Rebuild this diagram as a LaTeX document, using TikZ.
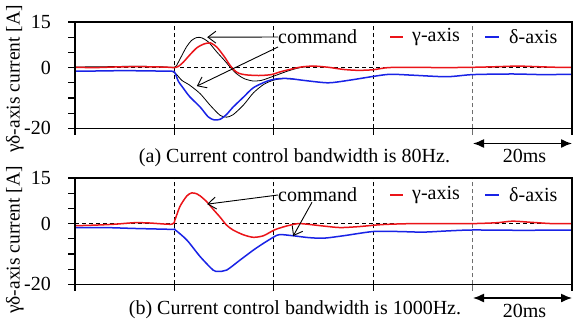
\documentclass[tikz,border=0pt]{standalone}
\usepackage{fontspec}
\setmainfont{Liberation Serif}
\usetikzlibrary{arrows.meta}
\definecolor{gcol}{RGB}{235,20,25}
\definecolor{dcol}{RGB}{25,35,230}
\definecolor{gridgray}{RGB}{110,110,110}
\begin{document}
\begin{tikzpicture}[x=1bp,y=-1bp,
  frame/.style={line width=1.1bp},
  gridline/.style={dash pattern=on 4bp off 3bp, line width=0.8bp},
  gam/.style={gcol, line width=1.5bp},
  del/.style={dcol, line width=1.5bp},
  cmd/.style={black, line width=0.8bp},
  lbl/.style={font=\fontsize{20bp}{24bp}\selectfont, inner sep=0pt},
  ylbl/.style={font=\fontsize{19.5bp}{24bp}\selectfont, inner sep=0pt, rotate=90},
  pointer/.style={-{Straight Barb[length=8bp,width=12bp]}, line width=0.9bp},
  spanarrow/.style={{Latex[length=11bp,width=9bp]}-{Latex[length=11bp,width=9bp]}, line width=1.4bp},
  smoothplot/.style={smooth, tension=0.45}]
\fill[white] (0,0) rectangle (577,323);
\useasboundingbox (0,0) rectangle (577,323);

% ---------------- panel (a) ----------------
\begin{scope}[shift={(75,67.6)}, x=4.97bp, y=3.04bp]
  \draw[gridline] (0,0) -- (100,0);
  \foreach \t in {20,40,60} \draw[gridline] (\t,-20) -- (\t,15);
  \draw[gridline, gridgray] (80,-20) -- (80,15);
  \foreach \v in {-20,-15,...,15} \draw[frame] (0,\v) -- ++(-7bp,0pt);
  \foreach \t in {0,20,40,60,100} \draw[frame] (\t,-20) -- ++(0pt,-7bp);
  \draw[frame, gridgray] (80,-20) -- ++(0pt,-7bp);
  \node[lbl, anchor=east] (a15) at ([xshift=-24bp]0,15) {15};
  \node[lbl, anchor=east] (a0) at ([xshift=-24bp]0,0) {0};
  \node[lbl, anchor=east] (am20) at ([xshift=-24bp]0,-20) {-20};
  % command
  \draw[cmd] plot[smoothplot] coordinates {(0,0.2) (6,0.3) (12,0.45) (17,0.3) (20,0.1) (20.7,1.5) (21.5,4) (22.5,7) (23.5,9) (24.5,9.9) (25.5,9.8) (26.8,8.5) (28.5,5.2) (30,2.5) (31.2,0.2) (32.5,-2) (34,-3.6) (35.8,-4.4) (37.5,-4.2) (38.8,-3.5) (40.5,-2.5) (42.5,-1.3) (44.5,-0.3) (46,0.2) (48,0.45)};
  \draw[cmd] plot[smoothplot] coordinates {(19.5,-1.2) (20.3,-2) (21.5,-4.2) (23.1,-5.8) (25.2,-8.6) (27.2,-12.4) (29.2,-15.7) (30.5,-16.3) (31.8,-15.5) (33.9,-12.3) (35.9,-8.3) (38,-5.5) (40,-4.1) (42,-3.6) (44,-3.8)};
  % gamma
  \draw[gam] plot[smoothplot] coordinates {(0,0.1) (4,0) (8,0.2) (12,0.3) (16,0.25) (19,0.1) (20,0) (20.8,0.4) (21.8,1.8) (23,4) (24.5,6.5) (26,7.8) (27.3,8.1) (28.5,6.8) (29.5,4.8) (30.3,3.0) (31,1.2) (32,-0.8) (33,-1.9) (34.5,-2.4) (37,-2.6) (39.5,-2.3) (41.5,-1.3) (43.5,-0.5) (45.5,0.2) (48,0.5) (51,0.1) (54,-0.6) (57,-0.9) (60,-0.7) (63,0) (68,0.1) (74,0) (80,0.1) (85,0.3) (89,0.5) (93,0.3) (97,0.1) (100,0.1)};
  % delta
  \draw[del] plot[smoothplot] coordinates {(0,-1.2) (5,-1.1) (10,-1.0) (15,-1.1) (19.5,-1.2) (20.1,-1.7) (20.8,-4.5) (21.8,-6.8) (23.1,-9.6) (25.2,-13) (26.8,-16.2) (28,-17.2) (29.2,-17) (30.5,-15.4) (31.8,-13) (33.9,-9.7) (35.9,-6.6) (38.6,-4.5) (40.6,-3.7) (43,-3.6) (46.5,-4.3) (51,-5) (55,-4.2) (60,-2.9) (63.4,-2.2) (68,-2.5) (74.8,-3.0) (80,-2.3) (88,-2.1) (94,-2.3) (100,-2.2)};
  \draw[frame] (0,-20) rectangle (100,15);
  \coordinate (tA1) at (26.6,10);
  \coordinate (tA2) at (24.5,-6.1);
\end{scope}
\node[lbl, anchor=west] (cmdA) at (278,37) {command};
\draw[pointer] (cmdA.west) -- (tA1);
\draw[pointer] ([yshift=-10bp]cmdA.west) -- (tA2);
\coordinate (lgA1) at (390,37); \coordinate (lgA2) at (403,37);
\draw[gam] (lgA1) -- (lgA2);
\node[lbl, anchor=west] (legGA) at (412,37) {γ-axis};
\coordinate (lgA3) at (485,37); \coordinate (lgA4) at (499,37);
\draw[del] (lgA3) -- (lgA4);
\node[lbl, anchor=west] (legDA) at (509,37) {δ-axis};
\coordinate (sA1) at (473,143.5); \coordinate (sA2) at (572,143.5);
\draw[spanarrow] (sA1) -- (sA2);
\node[lbl] (msA) at (524.5,156) {20ms};
\node[lbl] (capA) at (294.5,157.5) {(a) Current control bandwidth is 80Hz.};
\node[ylbl] (ylA) at (15,79) {γδ-axis current [A]};

% ---------------- panel (b) ----------------
\begin{scope}[shift={(75,223.6)}, x=4.97bp, y=3.04bp]
  \draw[gridline] (0,0) -- (100,0);
  \foreach \t in {20,40,60} \draw[gridline] (\t,-20) -- (\t,15);
  \draw[gridline, gridgray] (80,-20) -- (80,15);
  \foreach \v in {-20,-15,...,15} \draw[frame] (0,\v) -- ++(-7bp,0pt);
  \foreach \t in {0,20,40,60,100} \draw[frame] (\t,-20) -- ++(0pt,-7bp);
  \draw[frame, gridgray] (80,-20) -- ++(0pt,-7bp);
  \node[lbl, anchor=east] (b15) at ([xshift=-24bp]0,15) {15};
  \node[lbl, anchor=east] (b0) at ([xshift=-24bp]0,0) {0};
  \node[lbl, anchor=east] (bm20) at ([xshift=-24bp]0,-20) {-20};
  % gamma
  \draw[gam] plot[smoothplot] coordinates {(0,-0.7) (4,-0.5) (8,-0.2) (12,0.3) (15,0.2) (19.5,-0.2) (20.1,1.2) (21.1,5.6) (22.5,9.1) (23.5,10.1) (24.5,9.8) (25.2,9.1) (26.5,7.2) (27.8,4.7) (29.2,2.1) (30.5,-0.5) (31.8,-2.1) (33.9,-3.7) (35.9,-4.5) (37.9,-4.0) (40.1,-2.1) (41.9,-1.1) (43.3,-0.5) (45.3,0) (50,-0.8) (53.3,-1.3) (57,-1.0) (62,-0.3) (68,0) (74,0) (80,0) (85,0.3) (88,0.8) (92,0.4) (96,0) (100,0)};
  % delta
  \draw[del] plot[smoothplot] coordinates {(0,-1.3) (6,-1.3) (12,-1.6) (19.5,-1.9) (20.1,-2.0) (22.5,-5.4) (25.2,-10.9) (27.8,-15.3) (28.8,-15.7) (30.5,-15.3) (33.2,-12) (35.9,-8.7) (37.9,-6.5) (40.1,-4.3) (41.2,-3.6) (43.9,-4.0) (47,-4.6) (50,-4.8) (54,-4.0) (60,-2.6) (65,-2.6) (70,-2.8) (75,-2.4) (80,-2.1) (90,-2.2) (100,-2.1)};
  \draw[frame] (0,-20) rectangle (100,15);
  \coordinate (tB1) at (26.6,6.4);
  \coordinate (tB2) at (43.9,-4.1);
\end{scope}
\node[lbl, anchor=west] (cmdB) at (278,195) {command};
\draw[pointer] (cmdB.west) -- (tB1);
\draw[pointer] ([xshift=34bp]cmdB.south west) -- (tB2);
\coordinate (lgB1) at (390,195); \coordinate (lgB2) at (403,195);
\draw[gam] (lgB1) -- (lgB2);
\node[lbl, anchor=west] (legGB) at (412,195) {γ-axis};
\coordinate (lgB3) at (485,195); \coordinate (lgB4) at (499,195);
\draw[del] (lgB3) -- (lgB4);
\node[lbl, anchor=west] (legDB) at (509,195) {δ-axis};
\coordinate (sB1) at (473,298); \coordinate (sB2) at (572,298);
\draw[spanarrow] (sB1) -- (sB2);
\node[lbl] (msB) at (524.5,311) {20ms};
\node[lbl] (capB) at (295,309.5) {(b) Current control bandwidth is 1000Hz.};
\node[ylbl] (ylB) at (15,240) {γδ-axis current [A]};
\end{tikzpicture}
\end{document}
